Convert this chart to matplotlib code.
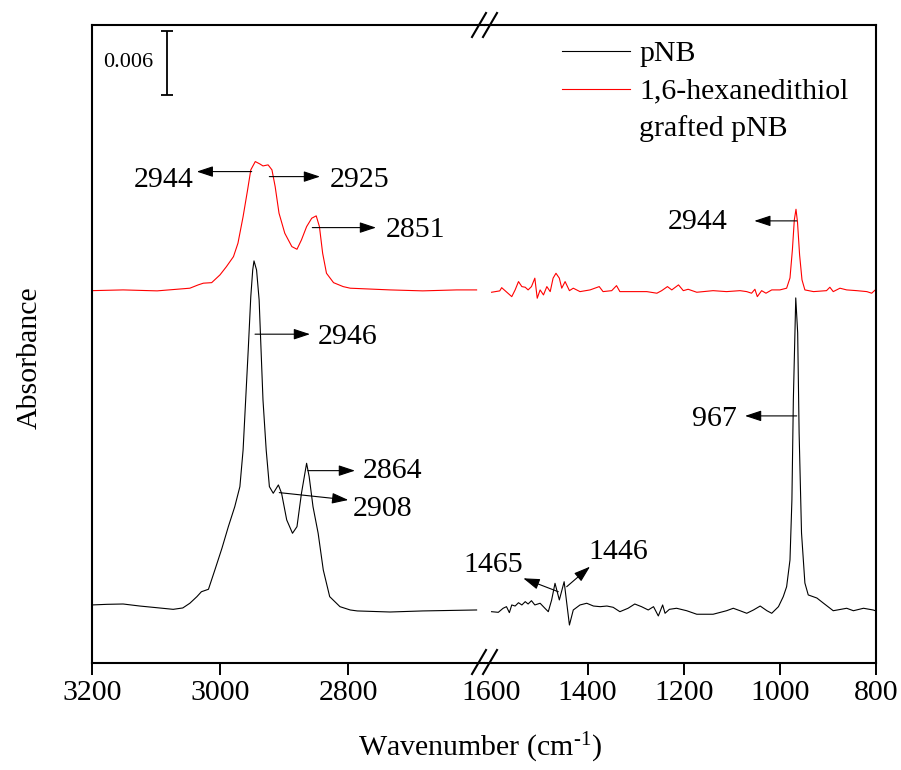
import matplotlib

matplotlib.use("Agg")
import matplotlib.pyplot as plt
from matplotlib.lines import Line2D

plt.rcParams["font.family"] = ["Liberation Serif", "DejaVu Serif"]
plt.rcParams["mathtext.fontset"] = "custom"
plt.rcParams["mathtext.rm"] = "Liberation Serif"
plt.rcParams["mathtext.it"] = "Liberation Serif:italic"

# ---- spectra (wavenumber in cm-1, stacked absorbance) ----
red_left_wn = [3200, 3151, 3098, 3047, 3034, 3026, 3013, 3000, 2990, 2979,
               2972, 2964, 2957, 2952, 2945, 2938, 2933, 2925, 2919, 2914,
               2908, 2899, 2888, 2880, 2873, 2865, 2857, 2850, 2845, 2840,
               2834, 2823, 2808, 2797, 2735, 2684, 2631, 2600]
red_left_abs = [0.03490, 0.03497, 0.03488, 0.03513, 0.03544, 0.03560, 0.03565, 0.03638, 0.03715, 0.03809,
                0.03935, 0.04184, 0.04434, 0.04622, 0.04700, 0.04678, 0.04659, 0.04669, 0.04622, 0.04465,
                0.04216, 0.04028, 0.03903, 0.03878, 0.03966, 0.04090, 0.04169, 0.04191, 0.04090, 0.03841,
                0.03653, 0.03565, 0.03528, 0.03513, 0.03497, 0.03488, 0.03497, 0.03497]

black_left_wn = [3200, 3176, 3151, 3125, 3098, 3073, 3058, 3047, 3036, 3029,
                 3018, 3008, 2997, 2987, 2977, 2969, 2964, 2960, 2956, 2952,
                 2949, 2947, 2943, 2939, 2936, 2933, 2928, 2923, 2917, 2909,
                 2904, 2896, 2887, 2880, 2873, 2865, 2861, 2855, 2847, 2839,
                 2829, 2813, 2797, 2786, 2735, 2684, 2600]
black_left_abs = [0.00544, 0.00550, 0.00553, 0.00534, 0.00518, 0.00503, 0.00516, 0.00560, 0.00622, 0.00668,
                  0.00691, 0.00872, 0.01075, 0.01278, 0.01465, 0.01653, 0.01997, 0.02466, 0.02934, 0.03434,
                  0.03684, 0.03769, 0.03684, 0.03403, 0.02934, 0.02466, 0.01997, 0.01653, 0.01591, 0.01669,
                  0.01591, 0.01341, 0.01216, 0.01278, 0.01591, 0.01872, 0.01747, 0.01465, 0.01216, 0.00872,
                  0.00622, 0.00528, 0.00497, 0.00488, 0.00478, 0.00488, 0.00497]

red_right_wn = [1600, 1583, 1579, 1572, 1558, 1551, 1544, 1537, 1530, 1524,
                1517, 1510, 1505, 1499, 1492, 1485, 1478, 1472, 1466, 1459,
                1454, 1447, 1438, 1430, 1416, 1395, 1376, 1368, 1350, 1340,
                1333, 1312, 1277, 1256, 1246, 1234, 1225, 1211, 1201, 1191,
                1173, 1139, 1111, 1083, 1069, 1059, 1052, 1047, 1038, 1029,
                1017, 1000, 986, 979, 974, 970, 966.5, 963.4, 959, 954,
                948, 930, 903, 896, 889, 875, 861, 840, 819, 809,
                800]
red_right_abs = [0.03475, 0.03488, 0.03518, 0.03490, 0.03434, 0.03497, 0.03575, 0.03528, 0.03522, 0.03497,
                 0.03528, 0.03607, 0.03419, 0.03497, 0.03450, 0.03528, 0.03481, 0.03607, 0.03653, 0.03607,
                 0.03513, 0.03575, 0.03490, 0.03513, 0.03481, 0.03497, 0.03528, 0.03481, 0.03490, 0.03537,
                 0.03481, 0.03481, 0.03481, 0.03466, 0.03490, 0.03528, 0.03497, 0.03544, 0.03490, 0.03503,
                 0.03475, 0.03490, 0.03481, 0.03490, 0.03481, 0.03466, 0.03503, 0.03434, 0.03490, 0.03466,
                 0.03497, 0.03497, 0.03513, 0.03609, 0.03872, 0.04153, 0.04253, 0.04134, 0.03825, 0.03591,
                 0.03497, 0.03481, 0.03490, 0.03522, 0.03481, 0.03513, 0.03497, 0.03490, 0.03481, 0.03466,
                 0.03503]

black_right_wn = [1600, 1586, 1576, 1569, 1563, 1558, 1551, 1544, 1537, 1530,
                  1524, 1517, 1510, 1499, 1489, 1482, 1475, 1468, 1459, 1449,
                  1438, 1430, 1416, 1402, 1388, 1374, 1360, 1347, 1333, 1316,
                  1302, 1288, 1274, 1263, 1253, 1244, 1239, 1230, 1215, 1194,
                  1173, 1139, 1111, 1097, 1083, 1069, 1055, 1041, 1027, 1017,
                  1003, 993, 986, 979, 975, 972, 967, 963, 960, 955,
                  948, 941, 923, 910, 889, 861, 847, 826, 806, 800]
black_right_abs = [0.00481, 0.00475, 0.00513, 0.00528, 0.00472, 0.00544, 0.00534, 0.00565, 0.00544, 0.00575,
                   0.00553, 0.00584, 0.00544, 0.00560, 0.00513, 0.00481, 0.00591, 0.00747, 0.00591, 0.00762,
                   0.00356, 0.00497, 0.00544, 0.00560, 0.00534, 0.00528, 0.00534, 0.00522, 0.00481, 0.00513,
                   0.00553, 0.00528, 0.00497, 0.00528, 0.00441, 0.00544, 0.00466, 0.00503, 0.00513, 0.00490,
                   0.00457, 0.00457, 0.00490, 0.00513, 0.00490, 0.00466, 0.00497, 0.00534, 0.00490, 0.00466,
                   0.00528, 0.00622, 0.00715, 0.00966, 0.01528, 0.02466, 0.03422, 0.03094, 0.02156, 0.01219,
                   0.00750, 0.00638, 0.00609, 0.00563, 0.00490, 0.00513, 0.00490, 0.00513, 0.00497, 0.00488]

left_ticks = [3200, 3000, 2800]
right_ticks = [1600, 1400, 1200, 1000, 800]

# peak labels: (text, tail wn, tail abs, head wn, head abs, text wn, text baseline abs, ha)
left_labels = [
    ("2944", 2950.6, 0.04606, 3036.3, 0.04606, 3040.5, 0.04463, "right"),
    ("2925", 2923.1, 0.04559, 2844.1, 0.04559, 2828.5, 0.04460, "left"),
    ("2851", 2856.1, 0.04081, 2756.8, 0.04081, 2741.2, 0.03991, "left"),
    ("2946", 2945.4, 0.03082, 2859.7, 0.03082, 2847.2, 0.02988, "left"),
    ("2864", 2863.3, 0.01803, 2789.6, 0.01803, 2777.1, 0.01737, "left"),
    ("2908", 2907.6, 0.01597, 2800.0, 0.01528, 2792.7, 0.01378, "left"),
]
right_labels = [
    ("2944", 965.0, 0.04144, 1053.3, 0.04144, 1108.0, 0.04066, "right"),
    ("967", 965.0, 0.02316, 1072.6, 0.02316, 1089.3, 0.02222, "right"),
    ("1465", 1461.2, 0.00668, 1534.0, 0.00794, 1596.0, 0.00856, "center"),
    ("1446", 1443.7, 0.00715, 1395.2, 0.00903, 1399.4, 0.00972, "left"),
]

W, H = 901, 770
FS = 21.5
fig = plt.figure(figsize=(W / 100, H / 100), dpi=100)
ax1 = fig.add_axes([91.7 / W, 107 / H, (485 - 91.7) / W, 638 / H])
ax2 = fig.add_axes([485 / W, 107 / H, (876 - 485) / W, 638 / H])

ax1.set_xlim(3200, 2586.9)
ax2.set_xlim(1613.7, 800)
for ax in (ax1, ax2):
    ax.set_ylim(0, 0.0598)
    ax.set_yticks([])
    for s in ax.spines.values():
        s.set_linewidth(1.5)
    ax.tick_params(axis="x", direction="out", length=8.5, width=1.4, labelsize=FS, pad=4)
ax1.spines["right"].set_visible(False)
ax2.spines["left"].set_visible(False)
ax1.set_xticks(left_ticks)
ax2.set_xticks(right_ticks)
ax2.xaxis.get_major_ticks()[0].tick1line.set_visible(False)

ax1.plot(black_left_wn, black_left_abs, color="k", lw=0.8)
ax1.plot(red_left_wn, red_left_abs, color="#ff0000", lw=0.8)
ax2.plot(black_right_wn, black_right_abs, color="k", lw=0.8)
ax2.plot(red_right_wn, red_right_abs, color="#ff0000", lw=0.8)

arrow = dict(arrowstyle="-|>,head_length=1.0,head_width=0.33", color="k", lw=0.8,
             shrinkA=0, shrinkB=0, mutation_scale=10)
for ax, labels in ((ax1, left_labels), (ax2, right_labels)):
    for txt, tx, ty, hx, hy, lx, ly, ha in labels:
        ax.annotate("", xy=(hx, hy), xytext=(tx, ty), arrowprops=arrow)
        ax.text(lx, ly, txt, ha=ha, va="baseline", fontsize=FS)

# scale bar for 0.006 absorbance
ax1.errorbar([3083], [0.05625], yerr=[0.003], color="k", capsize=4.5,
             capthick=1.3, elinewidth=1.3)
ax1.text(3104.4, 0.05625, "0.006", ha="right", va="center", fontsize=16)

# legend drawn by hand so the red sample sits on the first text line
ax2.plot([0.196, 0.371], [0.9597, 0.9597], color="k", lw=0.8, transform=ax2.transAxes)
ax2.plot([0.196, 0.371], [0.8997, 0.8997], color="#ff0000", lw=0.8, transform=ax2.transAxes)
ax2.text(0.394, 0.944, "pNB", fontsize=FS, va="baseline", transform=ax2.transAxes)
ax2.text(0.394, 0.885, "1,6-hexanedithiol", fontsize=FS, va="baseline", transform=ax2.transAxes)
ax2.text(0.394, 0.8265, "grafted pNB", fontsize=FS, va="baseline", transform=ax2.transAxes)

# axis-break marks
for cx in (479, 490):
    for cy in (25, 662):
        fig.add_artist(Line2D([(cx - 7) / W, (cx + 7) / W], [(H - cy - 12) / H, (H - cy + 12) / H],
                              color="k", lw=1.5, transform=fig.transFigure))

fig.text(480 / W, (H - 748) / H, "Wavenumber (cm$^{\\mathregular{\u20101}}$)", ha="center",
         va="center", fontsize=FS)
fig.text(30 / W, (H - 358) / H, "Absorbance", rotation=90, ha="center", va="center", fontsize=FS)

fig.savefig("out.png", dpi=100)
